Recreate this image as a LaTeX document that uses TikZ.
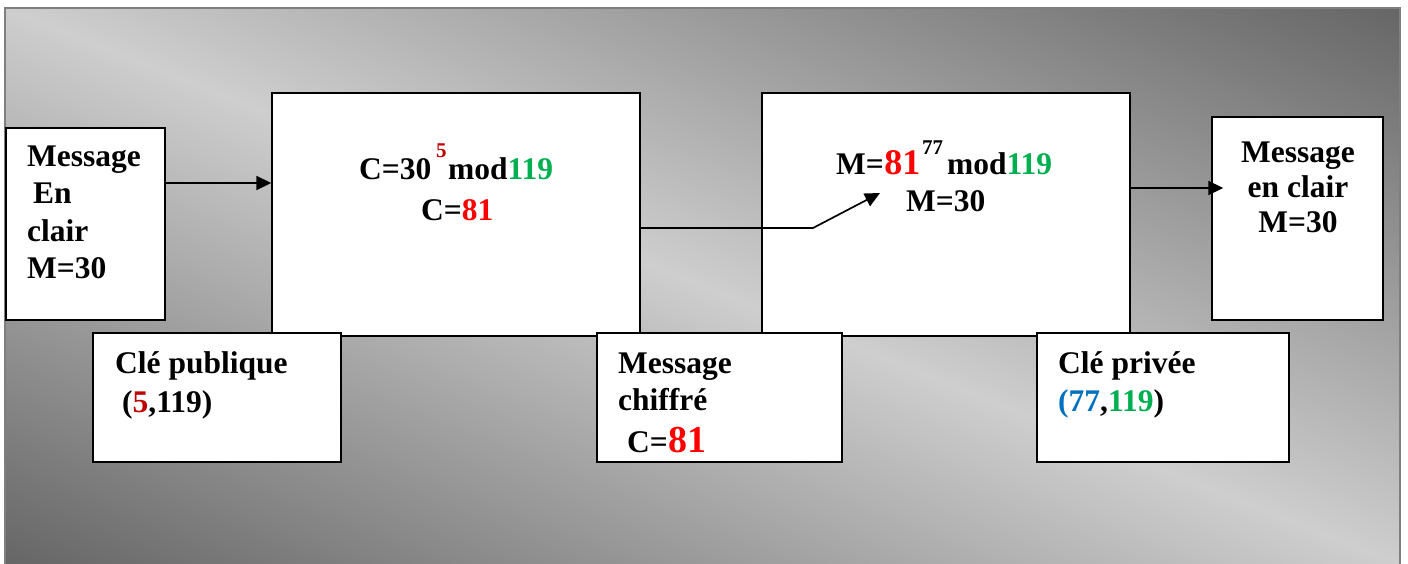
\documentclass[tikz,border=0pt]{standalone}
\usepackage{fontspec}
\setmainfont{Liberation Serif}
\usetikzlibrary{arrows.meta}

\definecolor{bglight}{HTML}{CECECE}
\definecolor{bgdark}{HTML}{666666}
\definecolor{framegray}{HTML}{7F7F7F}
\definecolor{keyred}{HTML}{C00000}
\definecolor{valred}{HTML}{FF0000}
\definecolor{modgreen}{HTML}{00B050}
\definecolor{keyblue}{HTML}{0070C0}

\begin{document}
\begin{tikzpicture}[x=1pt,y=-1pt,
  box/.style={draw=black, fill=white, line width=1.4pt, inner sep=0pt},
  txt/.style={anchor=base west, inner sep=0pt, font=\bfseries\fontsize{31.5}{37}\selectfont},
  sup/.style={anchor=base west, inner sep=0pt, font=\bfseries\fontsize{21}{21}\selectfont},
  big/.style={anchor=base west, inner sep=0pt, text=valred, font=\bfseries\fontsize{36}{40}\selectfont},
  arr/.style={draw=black, line width=1.7pt, -{Triangle[length=15pt,width=14pt]}}]

\useasboundingbox (0,0) rectangle (1408,564);

% shaded backdrop: light along the top-left to bottom-right diagonal,
% darkening towards the two other corners
\begin{scope}
  \clip (5,8) rectangle (1400,564);
  \begin{scope}[transform canvas={shift={(702.5pt,-286pt)}, rotate=-21.73}]
    \shade[top color=bgdark, bottom color=bgdark, middle color=bglight]
      (-820,-516.4) rectangle (820,516.4);
  \end{scope}
\end{scope}
\draw[framegray, line width=1.6pt] (5,564) -- (5,8) -- (1400,8) -- (1400,564);

% main boxes
\node[box, minimum width=159pt, minimum height=192pt] (plain) at (85.5,224) {};
\node[box, minimum width=368pt, minimum height=243pt] (enc) at (456,214.5) {};
\node[box, minimum width=368pt, minimum height=243pt] (dec) at (946,214.5) {};
\node[box, minimum width=171pt, minimum height=203pt] (out) at (1297.5,218.5) {};

% lower boxes
\node[box, minimum width=248pt, minimum height=129pt] (pub) at (217,397.5) {};
\node[box, minimum width=245pt, minimum height=129pt] (ciph) at (719.5,397.5) {};
\node[box, minimum width=252pt, minimum height=129pt] (priv) at (1163,397.5) {};

% plain message
\node[txt] (pa) at (27,167) {Message};
\node[txt] (pb) at (33,204) {En};
\node[txt] (pc) at (27,241) {clair};
\node[txt] (pd) at (27,278) {M=30};

% encryption
\node[txt] (ea) at (359,180) {C=30};
\node[sup, text=keyred] (eb) at (436,158) {5};
\node[txt] (ec) at (448,180) {mod\textcolor{modgreen}{119}};
\node[txt] (ed) at (421,221) {C=\textcolor{valred}{81}};

% decryption
\node[txt] (da) at (836,175) {M=};
\node[big] (db) at (da.base east) {81};
\node[sup] (dc) at (922,155) {77};
\node[txt] (dd) at (947,175) {mod\textcolor{modgreen}{119}};
\node[txt] (de) at (906,212) {M=30};

% recovered message
\node[txt, anchor=base] (ra) at (1298,163) {Message};
\node[txt, anchor=base] (rb) at (1298,198) {en clair};
\node[txt, anchor=base] (rc) at (1298,233) {M=30};

% public key
\node[txt] (ka) at (115,373) {Clé publique};
\node[txt] (kb) at (122,412) {(\textcolor{keyred}{5},119)};

% ciphertext
\node[txt] (ca) at (618,373) {Message};
\node[txt] (cb) at (618,410) {chiffré};
\node[txt] (cc) at (627,452) {C=};
\node[big, font=\bfseries\fontsize{38}{40}\selectfont] (cd) at (cc.base east) {81};

% private key
\node[txt] (va) at (1058,373) {Clé privée};
\node[txt] (vb) at (1058,411) {\textcolor{keyblue}{(77},\textcolor{modgreen}{119})};

% connectors
\coordinate (bend) at (813,228);
\coordinate (tip) at (880,193);
\draw[arr] ([yshift=41pt]plain.east) -- ([yshift=31.5pt]enc.west);
\draw[arr] ([yshift=-13.5pt]enc.east) -- (bend) -- (tip);
\draw[arr, shorten >=-12pt] ([yshift=26.5pt]dec.east) -- ([yshift=30.5pt]out.west);

\end{tikzpicture}
\end{document}
